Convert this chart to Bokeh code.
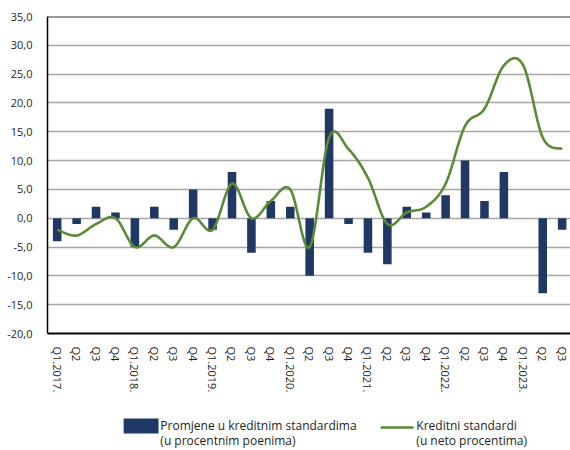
import numpy as np
from bokeh.plotting import figure
from bokeh.layouts import column
from bokeh.models import Range1d, FixedTicker, Span, ColumnDataSource
from bokeh.core.properties import value
from bokeh.embed import file_html
from bokeh.resources import INLINE

# ---------------- data ----------------
quarters = ["Q1.2017.", "Q2", "Q3", "Q4",
            "Q1.2018.", "Q2", "Q3", "Q4",
            "Q1.2019.", "Q2", "Q3", "Q4",
            "Q1.2020.", "Q2", "Q3", "Q4",
            "Q1.2021.", "Q2", "Q3", "Q4",
            "Q1.2022.", "Q2", "Q3", "Q4",
            "Q1.2023.", "Q2", "Q3"]
promjene = [-4, -1, 2, 1,
            -5, 2, -2, 5,
            -2, 8, -6, 3,
            2, -10, 19, -1,
            -6, -8, 2, 1,
            4, 10, 3, 8,
            0, -13, -2]
kreditni = [-2, -3, -1, 0,
            -5, -3, -5, 0,
            -2, 6, 0, 3,
            5, -5, 14, 12,
            7, -1, 1, 2,
            6, 16, 19, 26.5,
            26.5, 14, 12]
y_ticks = [-20, -15, -10, -5, 0, 5, 10, 15, 20, 25, 30, 35]
bar_label = "Promjene u kreditnim standardima"
bar_label2 = "(u procentnim poenima)"
line_label = "Kreditni standardi"
line_label2 = "(u neto procentima)"

BAR_COLOR = "#1f3864"
LINE_COLOR = "#5a8a34"
FONT = "Open Sans"
TXT = "#231f20"

xs = np.arange(len(quarters))


def catmull_rom(x, y, n=24):
    x = np.asarray(x, float)
    y = np.asarray(y, float)
    px = np.concatenate([[x[0]], x, [x[-1]]])
    py = np.concatenate([[y[0]], y, [y[-1]]])
    ox, oy = [], []
    for i in range(1, len(px) - 2):
        t = np.linspace(0, 1, n, endpoint=False)
        for arr, out in ((px, ox), (py, oy)):
            p0, p1, p2, p3 = arr[i - 1], arr[i], arr[i + 1], arr[i + 2]
            out.extend(0.5 * ((2 * p1) + (-p0 + p2) * t
                              + (2 * p0 - 5 * p1 + 4 * p2 - p3) * t ** 2
                              + (-p0 + 3 * p1 - 3 * p2 + p3) * t ** 3))
    ox.append(x[-1])
    oy.append(y[-1])
    return ox, oy


# ---------------- main chart ----------------
p = figure(width=570, height=398, output_backend="svg", toolbar_location=None,
           x_range=Range1d(-0.5, 26.43), y_range=Range1d(-20, 35),
           min_border_left=47, min_border_right=0, min_border_top=16,
           min_border_bottom=65)
p.outline_line_color = None
p.background_fill_color = "white"
p.border_fill_color = "white"

src = ColumnDataSource(dict(x=xs, top=promjene))
p.vbar(x="x", top="top", bottom=0, width=0.44, source=src,
       fill_color=BAR_COLOR, line_color=None)

sx, sy = catmull_rom(xs, kreditni)
p.line(sx, sy, line_color=LINE_COLOR, line_width=2.6)

p.add_layout(Span(location=35, dimension="width", line_color="#333333",
                  line_width=2))

# axes
p.yaxis.ticker = FixedTicker(ticks=y_ticks)
p.yaxis.major_label_overrides = {t: f"{t:.1f}".replace(".", ",") for t in y_ticks}
p.yaxis.major_tick_line_color = None
p.yaxis.minor_tick_line_color = None
p.yaxis.axis_line_color = "black"
p.yaxis.axis_line_width = 1.5
p.yaxis.major_label_text_font = FONT
p.yaxis.major_label_text_font_size = "11px"
p.yaxis.major_label_text_color = TXT
p.yaxis.major_label_standoff = 9

p.xaxis.ticker = FixedTicker(ticks=list(xs))
p.xaxis.major_label_overrides = {int(i): q for i, q in zip(xs, quarters)}
p.xaxis.major_label_orientation = "vertical"
p.xaxis.major_tick_line_color = None
p.xaxis.minor_tick_line_color = None
p.xaxis.axis_line_color = "black"
p.xaxis.axis_line_width = 2
p.xaxis.major_label_text_font = FONT
p.xaxis.major_label_text_font_size = "11px"
p.xaxis.major_label_text_color = TXT
p.xaxis.major_label_standoff = 7

p.xgrid.grid_line_color = None
p.ygrid.grid_line_color = "#a6a6a6"
p.ygrid.grid_line_width = 1.5

# ---------------- legend strip ----------------
leg = figure(width=570, height=52, output_backend="svg", toolbar_location=None,
             x_range=Range1d(0, 570), y_range=Range1d(52, 0),
             min_border=0)
leg.axis.visible = False
leg.grid.visible = False
leg.outline_line_color = None
leg.rect(x=[102], y=[27.5], width=38, height=15, fill_color=BAR_COLOR,
         line_color=None)
leg.line(x=[363, 399], y=[29, 29], line_color=LINE_COLOR, line_width=2.6)
leg.text(x=[123, 123], y=[27, 42], text=[bar_label, bar_label2],
         text_font=value(FONT), text_font_size="12px", text_color=TXT,
         text_baseline="middle", text_align="left")
leg.text(x=[402, 402], y=[27, 42], text=[line_label, line_label2],
         text_font=value(FONT), text_font_size="12px", text_color=TXT,
         text_baseline="middle", text_align="left")

layout = column(p, leg, spacing=0)
open("out.html", "w").write(file_html(layout, INLINE))
